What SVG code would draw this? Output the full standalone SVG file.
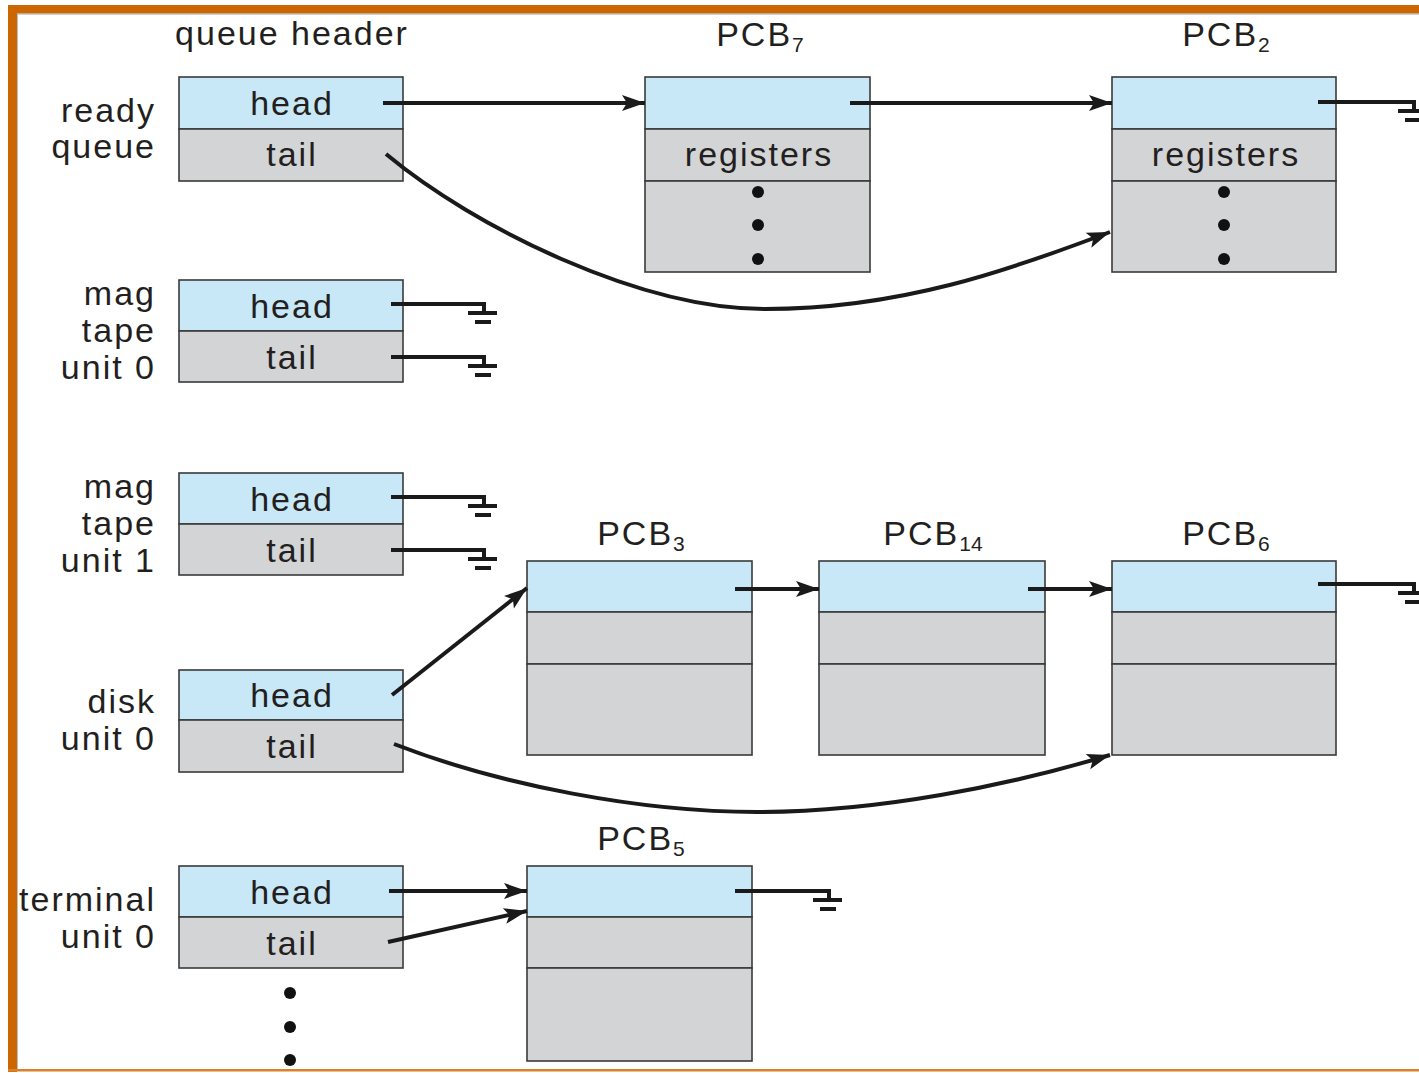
<svg xmlns="http://www.w3.org/2000/svg" xmlns:xlink="http://www.w3.org/1999/xlink" width="1419" height="1073" viewBox="0 0 1419 1073">
<style>
.t{font-family:"Liberation Sans",Arial,Helvetica,sans-serif;font-size:34px;letter-spacing:2px;fill:#231f20}
.e{text-anchor:end}
.m{text-anchor:middle}
.sub{font-size:21px;letter-spacing:0}
.b{fill:#c8e8f8;stroke:#3a3a3a;stroke-width:1.6}
.g{fill:#d3d4d6;stroke:#3a3a3a;stroke-width:1.6}
.w{stroke:#1a1a1a;stroke-width:4;fill:none}
.dot{fill:#111}
</style>
<defs>
<marker id="ah" markerUnits="userSpaceOnUse" markerWidth="26" markerHeight="20" viewBox="-24 -10 26 20" refX="0" refY="0" orient="auto">
<path d="M0,0 L-23,-8 L-18,0 L-23,8 Z" fill="#1a1a1a"/>
</marker>
<path id="gnd" d="M0,-2 V9 M-16,9 H13 M-9,18 H7" stroke="#1a1a1a" stroke-width="4" fill="none"/>
</defs>
<rect width="1419" height="1073" fill="#fff"/>
<g id="frame">
<rect x="8" y="5" width="1411" height="8.5" fill="#cc6600"/>
<rect x="8" y="5" width="9" height="1067" fill="#cc6600"/>
<rect x="8" y="1069" width="1411" height="2.5" fill="#d9822b"/>
<line x1="17" y1="14" x2="1419" y2="14" stroke="#a0a0a0" stroke-width="1"/>
<line x1="17.5" y1="14" x2="17.5" y2="1069" stroke="#c0c0c0" stroke-width="1"/>
</g>
<text class="t m" x="292" y="45">queue header</text>
<g id="ready-queue">
<rect class="b" x="179" y="77" width="224" height="52"/>
<rect class="g" x="179" y="129" width="224" height="52"/>
<text class="t m" x="292" y="115">head</text>
<text class="t m" x="292" y="166">tail</text>
<text class="t e" x="156" y="122">ready</text>
<text class="t e" x="156" y="158">queue</text>
</g>
<g id="mag-tape-0">
<rect class="b" x="179" y="280" width="224" height="51"/>
<rect class="g" x="179" y="331" width="224" height="51"/>
<text class="t m" x="292" y="318">head</text>
<text class="t m" x="292" y="369">tail</text>
<text class="t e" x="156" y="305">mag</text>
<text class="t e" x="156" y="342">tape</text>
<text class="t e" x="156" y="379">unit 0</text>
</g>
<g id="mag-tape-1">
<rect class="b" x="179" y="473" width="224" height="51"/>
<rect class="g" x="179" y="524" width="224" height="51"/>
<text class="t m" x="292" y="511">head</text>
<text class="t m" x="292" y="562">tail</text>
<text class="t e" x="156" y="498">mag</text>
<text class="t e" x="156" y="535">tape</text>
<text class="t e" x="156" y="572">unit 1</text>
</g>
<g id="disk-0">
<rect class="b" x="179" y="670" width="224" height="50"/>
<rect class="g" x="179" y="720" width="224" height="52"/>
<text class="t m" x="292" y="707">head</text>
<text class="t m" x="292" y="758">tail</text>
<text class="t e" x="156" y="713">disk</text>
<text class="t e" x="156" y="750">unit 0</text>
</g>
<g id="terminal-0">
<rect class="b" x="179" y="866" width="224" height="51"/>
<rect class="g" x="179" y="917" width="224" height="51"/>
<text class="t m" x="292" y="904">head</text>
<text class="t m" x="292" y="955">tail</text>
<text class="t e" x="156" y="911">terminal</text>
<text class="t e" x="156" y="948">unit 0</text>
<circle class="dot" cx="290" cy="993" r="6"/>
<circle class="dot" cx="290" cy="1027" r="6"/>
<circle class="dot" cx="290" cy="1060" r="6"/>
</g>
<g id="pcb7">
<text class="t m" x="760" y="46">PCB<tspan class="sub" dy="6">7</tspan></text>
<rect class="b" x="645" y="77" width="225" height="52"/>
<rect class="g" x="645" y="129" width="225" height="52"/>
<rect class="g" x="645" y="181" width="225" height="91"/>
<text class="t m" x="759" y="166">registers</text>
<circle class="dot" cx="758" cy="192" r="6"/>
<circle class="dot" cx="758" cy="225" r="6"/>
<circle class="dot" cx="758" cy="259" r="6"/>
</g>
<g id="pcb2">
<text class="t m" x="1226" y="46">PCB<tspan class="sub" dy="6">2</tspan></text>
<rect class="b" x="1112" y="77" width="224" height="52"/>
<rect class="g" x="1112" y="129" width="224" height="52"/>
<rect class="g" x="1112" y="181" width="224" height="91"/>
<text class="t m" x="1226" y="166">registers</text>
<circle class="dot" cx="1224" cy="192" r="6"/>
<circle class="dot" cx="1224" cy="225" r="6"/>
<circle class="dot" cx="1224" cy="259" r="6"/>
</g>
<g id="pcb3">
<text class="t m" x="641" y="545">PCB<tspan class="sub" dy="6">3</tspan></text>
<rect class="b" x="527" y="561" width="225" height="51"/>
<rect class="g" x="527" y="612" width="225" height="52"/>
<rect class="g" x="527" y="664" width="225" height="91"/>
</g>
<g id="pcb14">
<text class="t m" x="933" y="545">PCB<tspan class="sub" dy="6">14</tspan></text>
<rect class="b" x="819" y="561" width="226" height="51"/>
<rect class="g" x="819" y="612" width="226" height="52"/>
<rect class="g" x="819" y="664" width="226" height="91"/>
</g>
<g id="pcb6">
<text class="t m" x="1226" y="545">PCB<tspan class="sub" dy="6">6</tspan></text>
<rect class="b" x="1112" y="561" width="224" height="51"/>
<rect class="g" x="1112" y="612" width="224" height="52"/>
<rect class="g" x="1112" y="664" width="224" height="91"/>
</g>
<g id="pcb5">
<text class="t m" x="641" y="850">PCB<tspan class="sub" dy="6">5</tspan></text>
<rect class="b" x="527" y="866" width="225" height="51"/>
<rect class="g" x="527" y="917" width="225" height="51"/>
<rect class="g" x="527" y="968" width="225" height="93"/>
</g>
<g id="connectors">
<line class="w" x1="383" y1="103" x2="645" y2="103" marker-end="url(#ah)"/>
<line class="w" x1="850" y1="103" x2="1112" y2="103" marker-end="url(#ah)"/>
<path class="w" d="M386,154 C475,228 640,309 765,309 C900,309 1010,270 1110,232" marker-end="url(#ah)"/>
<line class="w" x1="1318" y1="102" x2="1414" y2="102"/>
<use xlink:href="#gnd" x="1414" y="102"/>
<line class="w" x1="391" y1="304" x2="484" y2="304"/>
<use xlink:href="#gnd" x="484" y="304"/>
<line class="w" x1="391" y1="357" x2="484" y2="357"/>
<use xlink:href="#gnd" x="484" y="357"/>
<line class="w" x1="391" y1="497" x2="484" y2="497"/>
<use xlink:href="#gnd" x="484" y="497"/>
<line class="w" x1="391" y1="550" x2="484" y2="550"/>
<use xlink:href="#gnd" x="484" y="550"/>
<line class="w" x1="392" y1="695" x2="527" y2="588" marker-end="url(#ah)"/>
<line class="w" x1="735" y1="589" x2="819" y2="589" marker-end="url(#ah)"/>
<line class="w" x1="1028" y1="589" x2="1112" y2="589" marker-end="url(#ah)"/>
<line class="w" x1="1318" y1="584" x2="1414" y2="584"/>
<use xlink:href="#gnd" x="1414" y="584"/>
<path class="w" d="M394,744 C500,785 640,812 757,812 C880,812 1010,785 1110,755" marker-end="url(#ah)"/>
<line class="w" x1="389" y1="891" x2="527" y2="891" marker-end="url(#ah)"/>
<line class="w" x1="388" y1="942" x2="527" y2="911" marker-end="url(#ah)"/>
<line class="w" x1="735" y1="891" x2="829" y2="891"/>
<use xlink:href="#gnd" x="829" y="891"/>
</g>
</svg>
